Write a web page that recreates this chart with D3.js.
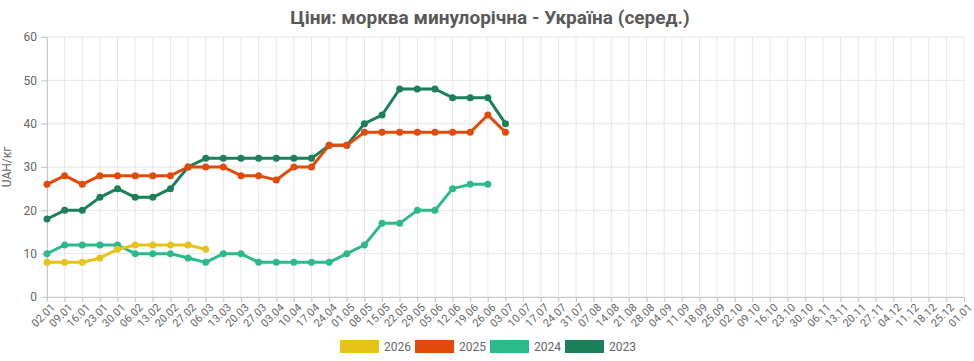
<!DOCTYPE html>
<html><head><meta charset="utf-8">
<script src="https://cdn.jsdelivr.net/npm/d3@7"></script>
<style>body{margin:0;background:#fff;font-family:Roboto,"Noto Sans",sans-serif}</style>
</head><body><svg id="c" width="974" height="361"></svg>
<script>
const weeks = ["02.01","09.01","16.01","23.01","30.01","06.02","13.02","20.02","27.02","06.03","13.03","20.03","27.03","03.04","10.04","17.04","24.04","01.05","08.05","15.05","22.05","29.05","05.06","12.06","19.06","26.06","03.07","10.07","17.07","24.07","31.07","07.08","14.08","21.08","28.08","04.09","11.09","18.09","25.09","02.10","09.10","16.10","23.10","30.10","06.11","13.11","20.11","27.11","04.12","11.12","18.12","25.12","01.01"];
const years = ["2026","2025","2024","2023"];
const colors = ["#E5C318","#E24A0A","#2BBA89","#1B7F59"];
const v2026 = [8,8,8,9,11,12,12,12,12,11];
const v2025 = [26,28,26,28,28,28,28,28,30,30,30,28,28,27,30,30,35,35,38,38,38,38,38,38,38,42,38];
const v2024 = [10,12,12,12,12,10,10,10,9,8,10,10,8,8,8,8,8,10,12,17,17,20,20,25,26,26];
const v2023 = [18,20,20,23,25,23,23,25,30,32,32,32,32,32,32,32,35,35,40,42,48,48,48,46,46,46,40];
const yTicks = [0,10,20,30,40,50,60];
const series = [v2026, v2025, v2024, v2023];

const svg = d3.select("#c");
const m = {l:47, r:10, t:37, b:64};
const W = 974, H = 361;
const x = d3.scalePoint().domain(weeks).range([m.l, W - m.r]);
const y = d3.scaleLinear().domain([0,60]).range([H - m.b, m.t]);

svg.append("text").attr("x", 490).attr("y", 24).attr("text-anchor","middle")
  .attr("font-size", 19).attr("font-weight", "bold").attr("fill","#595959")
  .text("Ціни: морква минулорічна - Україна (серед.)");

// grid
const g = svg.append("g");
g.selectAll(".vg").data(weeks).join("line")
  .attr("x1", d=>x(d)).attr("x2", d=>x(d)).attr("y1", m.t).attr("y2", H - m.b + 5)
  .attr("stroke","#e6e6e6").attr("stroke-width",1);
g.selectAll(".hg").data(yTicks).join("line")
  .attr("x1", m.l - 5).attr("x2", W - m.r).attr("y1", d=>y(d)).attr("y2", d=>y(d))
  .attr("stroke","#e6e6e6").attr("stroke-width",1);

// axes
const ya = svg.append("g").attr("transform",`translate(${m.l},0)`)
  .call(d3.axisLeft(y).tickValues(yTicks).tickSize(6).tickPadding(4));
ya.select(".domain").attr("stroke","#c8c8c8");
ya.selectAll(".tick line").attr("stroke","#c8c8c8");
ya.selectAll("text").attr("font-size",12).attr("fill","#666").attr("font-family","Roboto");

const xa = svg.append("g").attr("transform",`translate(0,${H - m.b})`)
  .call(d3.axisBottom(x).tickSize(5).tickPadding(2));
xa.select(".domain").attr("stroke","#c8c8c8");
xa.selectAll(".tick line").attr("stroke","#c8c8c8");
xa.selectAll("text").attr("font-size",11).attr("fill","#666").attr("font-family","Roboto")
  .attr("text-anchor","end").attr("dx","-0.2em").attr("dy","0.6em")
  .attr("transform","rotate(-45)");

svg.append("text").attr("transform",`translate(11,${(m.t + H - m.b)/2}) rotate(-90)`)
  .attr("text-anchor","middle").attr("font-size",12).attr("fill","#666").text("UAH/кг");

// lines (draw older first so 2026 on top)
const line = d3.line().x((d,i)=>x(weeks[i])).y(d=>y(d));
for (let k = series.length - 1; k >= 0; k--) {
  const s = series[k];
  svg.append("path").datum(s).attr("d", line).attr("fill","none")
    .attr("stroke", colors[k]).attr("stroke-width", 3).attr("stroke-linejoin","round");
  svg.append("g").selectAll("circle").data(s).join("circle")
    .attr("cx",(d,i)=>x(weeks[i])).attr("cy", d=>y(d)).attr("r",3.5).attr("fill",colors[k]);
}

// legend
const lx = [340, 415, 490, 565];
const lg = svg.append("g");
years.forEach((yr,k)=>{
  lg.append("rect").attr("x", lx[k]).attr("y", 340).attr("width", 39).attr("height", 13).attr("fill", colors[k]);
  lg.append("text").attr("x", lx[k] + 44).attr("y", 351).attr("font-size", 12).attr("fill","#666").text(yr);
});
</script></body></html>
